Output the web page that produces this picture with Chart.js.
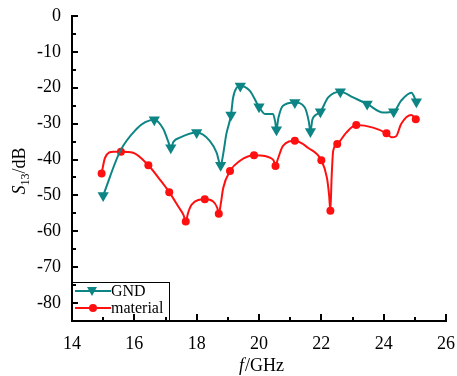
<!DOCTYPE html>
<html>
<head>
<meta charset="utf-8">
<script src="https://cdn.jsdelivr.net/npm/chart.js@4/dist/chart.umd.min.js"></script>
<style>
  html, body { margin: 0; padding: 0; background: #fff; }
  #box { width: 457px; height: 376px; }
</style>
</head>
<body>
<div id="box"><canvas id="s13Chart"></canvas></div>
<script>
// eixos
const xTicks = [14, 16, 18, 20, 22, 24, 26];
const yTicks = [0, -10, -20, -30, -40, -50, -60, -70, -80];

// GND - pontos com marcador
const gndFreq = [15.0, 16.64, 17.17, 18.0, 18.77, 19.1, 19.4, 20.0, 20.56, 21.15, 21.65, 21.97, 22.61, 23.47, 24.32, 25.05];
const gndS13 = [-50.0, -28.9, -36.7, -32.5, -41.6, -27.6, -19.5, -25.3, -31.7, -24.1, -32.2, -26.7, -21.1, -24.5, -26.7, -23.9];
// GND - pontos intermediarios da curva
const gndCurveFreq = [15.55, 16.07, 16.35, 16.93, 17.08, 17.26, 17.46, 18.42, 18.64, 18.86, 18.95, 19.17, 19.28, 19.7, 20.19, 20.45, 20.52, 20.62, 20.77, 21.47, 21.6, 21.71, 21.79, 22.22, 23.02, 23.98, 24.56, 24.89];
const gndCurveS13 = [-37.6, -31.5, -29.6, -31.5, -34.8, -35.0, -33.9, -34.8, -38.1, -38.0, -33.0, -22.7, -20.0, -20.8, -27.3, -27.3, -29.5, -28.5, -25.0, -25.5, -29.5, -29.0, -27.8, -22.7, -22.7, -26.9, -23.6, -21.4];

// material - pontos com marcador
const matFreq = [14.95, 15.57, 16.45, 17.12, 17.65, 18.26, 18.71, 19.07, 19.84, 20.53, 21.15, 22.0, 22.29, 22.51, 23.12, 24.09, 25.03];
const matS13 = [-43.9, -37.8, -41.6, -49.1, -57.3, -51.1, -55.1, -43.2, -38.8, -41.8, -34.8, -40.2, -54.3, -35.7, -30.4, -32.7, -28.8];
// material - pontos intermediarios
const matCurveFreq = [15.06, 15.33, 15.96, 16.82, 17.41, 17.58, 17.72, 17.84, 18.53, 18.66, 18.78, 18.85, 19.38, 20.19, 20.35, 20.47, 20.6, 20.77, 21.57, 22.18, 22.25, 22.33, 22.38, 22.8, 23.66, 24.25, 24.4, 24.56, 24.89];
const matCurveS13 = [-39.5, -37.8, -38.1, -45.6, -53.1, -55.5, -55.0, -52.6, -51.7, -53.5, -52.0, -48.0, -40.4, -39.0, -39.5, -40.3, -40.0, -36.2, -36.7, -45.1, -50.0, -45.0, -37.6, -32.5, -31.1, -33.8, -33.5, -30.1, -27.6];

const corGND = "#0e8585";
const corMat = "#ff1010";
const fonte = "Liberation Serif";
Chart.defaults.font.family = fonte;

function pontos(xs, ys) {
  return xs.map((x, i) => ({ x: x, y: ys[i] }));
}
function curva(xs, ys, cx, cy) {
  return pontos(xs, ys).concat(pontos(cx, cy)).sort((a, b) => a.x - b.x);
}

// ticks internos, titulos e legenda
const extras = {
  id: "extras",
  afterDraw(chart) {
    const c = chart.ctx;
    const xs = chart.scales.x;
    const ys = chart.scales.y;
    const area = chart.chartArea;
    c.save();
    c.strokeStyle = "#000";
    c.lineWidth = 2;
    c.beginPath();
    for (let v = -85; v <= 0; v += 5) {
      const py = Math.round(ys.getPixelForValue(v));
      const len = v % 10 === 0 ? 6 : 4;
      c.moveTo(area.left, py);
      c.lineTo(area.left + len, py);
    }
    for (let v = 14; v <= 26; v++) {
      const px = Math.round(xs.getPixelForValue(v));
      const len = v % 2 === 0 ? 7 : 4;
      c.moveTo(px, area.bottom);
      c.lineTo(px, area.bottom - len);
    }
    c.stroke();

    // titulo x: f/GHz
    c.fillStyle = "#000";
    c.textBaseline = "alphabetic";
    c.font = "italic 18px " + fonte;
    const wf = c.measureText("f").width;
    c.font = "18px " + fonte;
    const wr = c.measureText("/GHz").width;
    let x0 = 261 - (wf + wr) / 2;
    c.font = "italic 18px " + fonte;
    c.fillText("f", x0, 371);
    c.font = "18px " + fonte;
    c.fillText("/GHz", x0 + wf + 1, 371);

    // titulo y: S13/dB
    c.save();
    c.translate(25, 171);
    c.rotate(-Math.PI / 2);
    c.font = "italic 18px " + fonte;
    const ws = c.measureText("S").width;
    c.font = "12px " + fonte;
    const wn = c.measureText("13").width;
    c.font = "18px " + fonte;
    const wd = c.measureText("/dB").width;
    let t0 = -(ws + wn + wd) / 2;
    c.font = "italic 18px " + fonte;
    c.fillText("S", t0, 0);
    c.font = "12px " + fonte;
    c.fillText("13", t0 + ws, 4);
    c.font = "18px " + fonte;
    c.fillText("/dB", t0 + ws + wn, 0);
    c.restore();

    // legenda
    c.lineWidth = 1;
    c.strokeStyle = "#000";
    c.strokeRect(72.5, 282.5, 97, 39);
    const itens = [
      { nome: "GND", cor: corGND, y: 291, tri: true },
      { nome: "material", cor: corMat, y: 308, tri: false }
    ];
    c.font = "16px " + fonte;
    itens.forEach(it => {
      c.strokeStyle = it.cor;
      c.fillStyle = it.cor;
      c.lineWidth = 2;
      c.beginPath();
      c.moveTo(75, it.y);
      c.lineTo(111, it.y);
      c.stroke();
      c.beginPath();
      if (it.tri) {
        c.moveTo(87, it.y - 4);
        c.lineTo(97, it.y - 4);
        c.lineTo(92, it.y + 5);
        c.closePath();
      } else {
        c.arc(93, it.y, 4, 0, Math.PI * 2);
      }
      c.fill();
      c.fillStyle = "#000";
      c.textBaseline = "middle";
      c.fillText(it.nome, 111, it.y + 1);
    });
    c.restore();
  }
};

const ctx = document.getElementById("s13Chart").getContext("2d");
new Chart(ctx, {
  type: "scatter",
  data: {
    datasets: [
      {
        data: curva(gndFreq, gndS13, gndCurveFreq, gndCurveS13),
        showLine: true,
        borderColor: corGND,
        borderWidth: 2,
        pointRadius: 0,
        cubicInterpolationMode: "monotone"
      },
      {
        data: pontos(gndFreq, gndS13),
        showLine: false,
        pointStyle: "triangle",
        rotation: 180,
        pointRadius: 6.5,
        backgroundColor: corGND,
        borderColor: corGND,
        borderWidth: 0
      },
      {
        data: curva(matFreq, matS13, matCurveFreq, matCurveS13),
        showLine: true,
        borderColor: corMat,
        borderWidth: 2,
        pointRadius: 0,
        cubicInterpolationMode: "monotone"
      },
      {
        data: pontos(matFreq, matS13),
        showLine: false,
        pointStyle: "circle",
        pointRadius: 4,
        backgroundColor: corMat,
        borderColor: corMat,
        borderWidth: 0
      }
    ]
  },
  options: {
    responsive: true,
    maintainAspectRatio: false,
    animation: false,
    layout: { padding: { top: 16, right: 11, bottom: 0, left: 0 } },
    plugins: { legend: { display: false }, tooltip: { enabled: false } },
    scales: {
      x: {
        type: "linear",
        min: 14,
        max: 26,
        afterBuildTicks: s => { s.ticks = xTicks.map(v => ({ value: v })); },
        afterFit: s => { s.height = 55; s.paddingLeft = 0; s.paddingRight = 0; },
        grid: { display: false, drawTicks: false },
        border: { display: true, color: "#000", width: 2 },
        ticks: { color: "#000", padding: 12, maxRotation: 0, font: { family: fonte, size: 18 } }
      },
      y: {
        min: -85,
        max: 0,
        afterBuildTicks: s => { s.ticks = yTicks.map(v => ({ value: v })); },
        afterFit: s => { s.width = 72; s.paddingTop = 0; s.paddingBottom = 0; },
        grid: { display: false, drawTicks: false },
        border: { display: true, color: "#000", width: 2 },
        ticks: { color: "#000", padding: 11, font: { family: fonte, size: 18 } }
      }
    }
  },
  plugins: [extras]
});
</script>
</body>
</html>
